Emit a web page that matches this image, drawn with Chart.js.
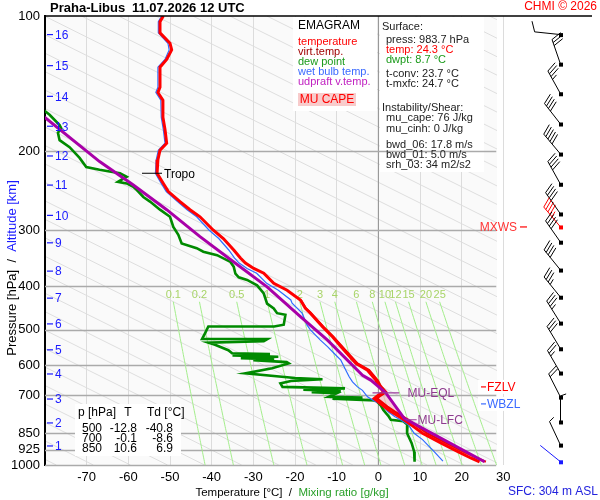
<!DOCTYPE html>
<html>
<head>
<meta charset="utf-8">
<script src="https://cdn.jsdelivr.net/npm/chart.js@4.4.1/dist/chart.umd.min.js"></script>
<style>
  html, body { margin: 0; padding: 0; background: #fff; }
  canvas { display: block; }
</style>
</head>
<body>
<canvas id="emagram" width="600" height="500"></canvas>
<script>
// values: pressure in hPa, temperatures in deg C
const tempP = [100, 103, 109, 115, 119, 125, 130, 144, 148, 154, 168, 179, 192, 199, 209, 224, 236, 246, 259, 270,
  280, 300, 313, 332, 346, 355, 365, 374, 394, 408, 429, 448, 459, 492, 518, 555, 594, 615, 647, 667,
  688, 700, 711, 741, 760, 793, 813, 850, 894, 934, 966, 983.7];
const tempT = [-51.6, -52.4, -52.4, -50.0, -49.6, -50.8, -52.4, -52.4, -52.9, -51.7, -51.7, -51.2, -50.8, -52.4, -52.9, -53.1, -51.6, -50.4, -47.6, -45.2,
  -42.8, -39.6, -37.2, -34.7, -33.1, -31.9, -29.9, -27.5, -25.1, -21.9, -18.7, -17.5, -16.3, -13.4, -11.0, -8.2, -5.4, -2.6, -0.6, 0.1,
  1.3, -0.1, -1.0, 1.4, 3.0, 6.2, 7.8, 10.6, 15.1, 19.1, 22.3, 24.3];

const virtP = [429, 448, 459, 492, 518, 555, 594, 615, 647, 667, 688, 700, 711, 741, 760, 793, 813, 850, 894, 934, 966, 983.7];
const virtT = [-18.6, -17.4, -16.2, -13.2, -10.8, -7.9, -5.0, -2.2, -0.2, 0.6, 1.9, 0.6, -0.3, 2.2, 3.9, 7.1, 8.8, 11.7, 16.4, 20.5, 23.8, 25.8];

const wetP = [100, 103, 109, 115, 119, 125, 130, 144, 148, 154, 168, 179, 192, 199, 209, 224, 236, 246, 259, 270,
  280, 300, 313, 332, 346, 355, 365, 374, 394, 408, 429, 436, 459, 488, 500, 527, 545, 563, 584, 615,
  636, 653, 670, 682, 705, 717, 735, 760, 781, 793, 813, 850, 878, 934, 980];
const wetT = [-52.0, -52.8, -52.8, -50.5, -50.2, -51.2, -52.9, -52.9, -53.4, -52.2, -52.1, -51.6, -51.2, -52.8, -53.3, -53.5, -52.1, -50.9, -48.2, -45.9,
  -43.6, -40.6, -38.3, -35.9, -34.5, -33.4, -31.5, -29.2, -26.8, -24.0, -21.0, -20.7, -18.3, -17.1, -16.3, -13.9, -12.2, -10.7, -9.0, -7.8,
  -7.0, -6.2, -5.0, -3.8, -2.6, -1.3, 0.9, 2.3, 4.0, 5.3, 7.2, 8.6, 10.6, 13.4, 15.5];

const dewP = [160, 166, 175, 178, 182, 189, 196, 207, 217, 220, 222, 224, 228, 234, 236, 240, 244, 253, 259, 270,
  280, 295, 307, 321, 329, 335, 341, 353, 362, 375, 382, 387, 398, 415, 437, 448, 459, 463, 487, 491.5,
  491.5, 509, 524, 524, 530, 534, 540, 555, 564, 566, 570, 574, 578, 581, 584, 590, 594, 609, 625, 640,
  644, 650, 658, 670, 675, 680, 684, 688, 692, 705, 708, 712, 716, 718, 735, 754, 780, 793, 799, 813,
  850, 894, 934, 983.7];
const dewT = [-81, -78.9, -76.5, -76.1, -76.9, -76.5, -74.1, -71.7, -70.1, -66.9, -64.5, -62.0, -60.4, -62.5, -60.4, -58.8, -58.0, -56.4, -54.8, -52.4,
  -50.0, -49.2, -48.0, -47.2, -43.6, -42.0, -38.7, -35.5, -34.7, -34.3, -33.5, -31.5, -29.1, -27.5, -26.7, -25.1, -24.3, -22.3, -22.7, -25.0,
  -40.8, -41.6, -42.3, -26.6, -27.5, -40.8, -39.2, -36.0, -35.1, -26.0, -35.0, -24.0, -33.0, -25.0, -30.0, -22.0, -21.5, -25.5, -31.9, -20.0,
  -13.4, -21.0, -23.5, -23.0, -8.0, -18.0, -9.0, -16.0, -10.0, -11.9, -3.8, -11.0, -3.8, -0.6, 0.5, 1.2, 2.5, 3.0, 6.0, 7.0,
  6.9, 8.0, 8.6, 8.7];

const parcelP = [983.7, 787, 691, 647, 631, 527, 467, 401, 353, 310, 270, 238, 211, 168];
const parcelT = [25.5, 6.2, 1.8, -1.8, -3.8, -12.2, -18.7, -26.7, -34.7, -42.8, -50.8, -58.8, -66.9, -80.1];

// MU CAPE area between parcel and virtual temperature
const capeP = [787, 691, 700, 711, 741, 760, 787];
const capeT = [6.2, 1.8, 0.6, -0.3, 2.2, 3.9, 6.2];

const windP = [110, 128, 149, 174, 203, 237, 276, 295, 319, 368, 423, 483, 551, 624, 706, 802, 903, 983.7];
const windDir = [276, 341, 331, 322, 320, 331, 325, 320, 325, 321, 321, 328, 329, 330, 333, 360, 335, 309];
const windSpd = [10, 30, 35, 40, 50, 40, 40, 45, 40, 40, 35, 35, 30, 25, 20, 5, 5, 2];

const altKm = [16, 15, 14, 13, 12, 11, 10, 9, 8, 7, 6, 5, 4, 3, 2, 1];
const altP = [110, 129, 151, 176, 205, 238, 278, 320, 370, 425, 485, 554, 627, 713, 806, 907];

const mixRatio = [0.1, 0.2, 0.5, 1, 2, 3, 4, 6, 8, 10, 12, 15, 20, 25];
const tempTicks = [-70, -60, -50, -40, -30, -20, -10, 0, 10, 20, 30];
const pressTicks = [100, 200, 300, 400, 500, 600, 700, 850, 925, 1000];

const tableP = ['500', '700', '850'];
const tableT = ['-12.8', '-0.1', '10.6'];
const tableTd = ['-40.8', '-8.6', '6.9'];

const tropoP = 224, fzlvP = 670, wbzlP = 731, mxwsP = 295, eqlP = 691, lfcP = 793, sfcP = 983.7;

const FONT = '"Liberation Sans", Arial, sans-serif';

function pts(ps, ts) { return ps.map((p, i) => ({ x: ts[i], y: p })); }

function dewFromMix(w, p) {
  const e = w * p / (622 + w);
  const l = Math.log(e / 6.112);
  return 243.5 * l / (17.67 - l);
}

function txt(ctx, s, x, y, color, size, align, bold) {
  ctx.font = (bold ? 'bold ' : '') + size + 'px ' + FONT;
  ctx.fillStyle = color;
  ctx.textAlign = align || 'left';
  ctx.textBaseline = 'middle';
  ctx.fillText(s, x, y);
}

function drawBarb(ctx, bx, by, dir, spd, color) {
  const r = dir * Math.PI / 180;
  const ux = Math.sin(r), uy = -Math.cos(r);
  const px = -uy, py = ux;
  const tx = bx + ux * 26, ty = by + uy * 26;
  ctx.strokeStyle = color;
  ctx.fillStyle = color;
  ctx.lineWidth = 1;
  ctx.beginPath();
  ctx.moveTo(bx, by);
  ctx.lineTo(tx, ty);
  const full = Math.floor(spd / 10), half = spd % 10 >= 5 ? 1 : 0;
  let d = 0;
  for (let i = 0; i < full + half; i++) {
    const len = i < full ? 11 : 6;
    const sx = tx - ux * d, sy = ty - uy * d;
    ctx.moveTo(sx, sy);
    ctx.lineTo(sx + (px * 0.94 + ux * 0.34) * len, sy + (py * 0.94 + uy * 0.34) * len);
    d += 3.2;
  }
  ctx.stroke();
  ctx.fillRect(bx - 1.5, by - 1.5, 4, 4);
}

const deco = {
  id: 'deco',
  beforeDraw(chart) {
    const { ctx, chartArea: a, scales: { x, y } } = chart;
    const xr = x.getPixelForValue(28.5);
    ctx.save();
    ctx.fillStyle = '#fff';
    ctx.fillRect(0, 0, chart.width, chart.height);
    ctx.fillStyle = '#fafafa';
    ctx.fillRect(a.left, a.top, xr - a.left, a.bottom - a.top);
    // slanted background lines
    ctx.beginPath();
    ctx.rect(a.left, a.top, xr - a.left, a.bottom - a.top);
    ctx.clip();
    ctx.strokeStyle = '#dedede';
    ctx.lineWidth = 1;
    for (let k = 0; k < 40; k++) {
      const t0 = -77.3 + 8.9 * k;
      ctx.beginPath();
      ctx.moveTo(x.getPixelForValue(t0 + 94 * Math.log(0.1)), y.getPixelForValue(100));
      ctx.lineTo(x.getPixelForValue(t0), y.getPixelForValue(1000));
      ctx.stroke();
    }
    ctx.restore();
  },
  beforeDatasetsDraw(chart) {
    const { ctx, chartArea: a, scales: { x, y } } = chart;
    ctx.save();
    // legend and info panels
    ctx.fillStyle = '#fff';
    ctx.fillRect(293, a.top + 1, 84, 94);
    ctx.fillRect(380, a.top + 1, 104, 155);
    // zero isotherm
    ctx.strokeStyle = '#999';
    ctx.lineWidth = 1;
    ctx.beginPath();
    ctx.moveTo(x.getPixelForValue(0), a.top);
    ctx.lineTo(x.getPixelForValue(0), a.bottom);
    ctx.stroke();
    // isobars
    ctx.strokeStyle = '#aaa';
    ctx.lineWidth = 1.3;
    pressTicks.forEach(p => {
      if (p === 100) return;
      const yy = Math.round(y.getPixelForValue(p)) + 0.5;
      ctx.beginPath();
      ctx.moveTo(a.left, yy);
      ctx.lineTo(x.getPixelForValue(28.3), yy);
      ctx.stroke();
    });
    // mixing ratio lines
    ctx.strokeStyle = '#a4ee8c';
    ctx.lineWidth = 1;
    mixRatio.forEach(w => {
      ctx.beginPath();
      for (let p = 433; p <= 1000; p += 9) {
        const xx = x.getPixelForValue(dewFromMix(w, p)), yy = y.getPixelForValue(p);
        if (p === 433) ctx.moveTo(xx, yy); else ctx.lineTo(xx, yy);
      }
      ctx.lineTo(x.getPixelForValue(dewFromMix(w, 1000)), y.getPixelForValue(1000));
      ctx.stroke();
      txt(ctx, String(w), x.getPixelForValue(dewFromMix(w, 433)), y.getPixelForValue(418), '#a8d468', 11, 'center');
    });
    ctx.restore();
  },
  afterDatasetsDraw(chart) {
    const { ctx, scales: { x, y } } = chart;
    ctx.save();
    // EQL / LFC markers
    ctx.strokeStyle = '#9a3a9a';
    ctx.lineWidth = 1.2;
    ctx.beginPath();
    ctx.moveTo(x.getPixelForValue(-1.4), y.getPixelForValue(eqlP));
    ctx.lineTo(x.getPixelForValue(5), y.getPixelForValue(eqlP));
    ctx.moveTo(x.getPixelForValue(6.5), y.getPixelForValue(lfcP));
    ctx.lineTo(x.getPixelForValue(9.2), y.getPixelForValue(lfcP));
    ctx.stroke();
    txt(ctx, 'MU-EQL', x.getPixelForValue(7), y.getPixelForValue(eqlP) + 1, '#8e3a8e', 12);
    txt(ctx, 'MU-LFC', x.getPixelForValue(9.4), y.getPixelForValue(lfcP) + 1, '#8e3a8e', 12);
    // tropopause
    const ty = y.getPixelForValue(tropoP);
    ctx.strokeStyle = '#000';
    ctx.lineWidth = 1;
    ctx.beginPath();
    ctx.moveTo(142, ty);
    ctx.lineTo(162, ty);
    ctx.stroke();
    txt(ctx, 'Tropo', 164, ty + 1, '#000', 12);
    // table
    ctx.fillStyle = '#fff';
    ctx.fillRect(75, 404, 106, 52);
    txt(ctx, 'p [hPa]', 78, 413, '#000', 12);
    txt(ctx, 'T', 128, 413, '#000', 12, 'center');
    txt(ctx, 'Td [°C]', 147, 413, '#000', 12);
    tableP.forEach((p, i) => {
      const yy = 429 + i * 10;
      txt(ctx, p, 102, yy, '#000', 12, 'right');
      txt(ctx, tableT[i], 137, yy, '#000', 12, 'right');
      txt(ctx, tableTd[i], 173, yy, '#000', 12, 'right');
    });
    ctx.restore();
  },
  afterDraw(chart) {
    const { ctx, chartArea: a, scales: { y } } = chart;
    ctx.save();
    // top frame line
    ctx.strokeStyle = '#000';
    ctx.lineWidth = 1.5;
    ctx.beginPath();
    ctx.moveTo(a.left, a.top);
    ctx.lineTo(592, a.top);
    ctx.stroke();
    txt(ctx, 'Praha-Libus', 50, 8, '#000', 13, 'left', true);
    txt(ctx, '11.07.2026 12 UTC', 132, 8, '#000', 13, 'left', true);
    txt(ctx, 'CHMI © 2026', 597, 7, '#f00', 12, 'right');

    // legend
    txt(ctx, 'EMAGRAM', 298, 26, '#000', 12);
    txt(ctx, 'temperature', 298, 42, '#f00', 11);
    txt(ctx, 'virt.temp.', 298, 52, '#a00000', 11);
    txt(ctx, 'dew point', 298, 62, '#1a9a1a', 11);
    txt(ctx, 'wet bulb temp.', 298, 72, '#3a6aff', 11);
    txt(ctx, 'udpraft v.temp.', 298, 82, '#c020c0', 11);
    ctx.fillStyle = '#f8cccc';
    ctx.fillRect(298, 93, 58, 13);
    txt(ctx, 'MU CAPE', 327, 100, '#f00', 12, 'center');

    // surface / instability info
    txt(ctx, 'Surface:', 382, 27, '#222', 11);
    txt(ctx, 'press: 983.7 hPa', 386, 40, '#222', 11);
    txt(ctx, 'temp: 24.3 °C', 386, 50, '#f00', 11);
    txt(ctx, 'dwpt: 8.7 °C', 386, 60, '#1a9a1a', 11);
    txt(ctx, 't-conv: 23.7 °C', 386, 74, '#222', 11);
    txt(ctx, 't-mxfc: 24.7 °C', 386, 84, '#222', 11);
    txt(ctx, 'Instability/Shear:', 382, 108, '#222', 11);
    txt(ctx, 'mu_cape: 76 J/kg', 386, 118, '#222', 11);
    txt(ctx, 'mu_cinh: 0 J/kg', 386, 129, '#222', 11);
    txt(ctx, 'bwd_06: 17.8 m/s', 386, 145, '#222', 11);
    txt(ctx, 'bwd_01: 5.0 m/s', 386, 155, '#222', 11);
    txt(ctx, 'srh_03: 34 m2/s2', 386, 165, '#222', 11);

    // altitude marks
    ctx.strokeStyle = '#1a1aff';
    ctx.lineWidth = 1.2;
    altKm.forEach((km, i) => {
      const yy = y.getPixelForValue(altP[i]);
      ctx.beginPath();
      ctx.moveTo(47, yy);
      ctx.lineTo(53, yy);
      ctx.stroke();
      txt(ctx, String(km), 55, yy + 1, '#1a1aff', 12);
    });

    // level labels on the right
    const fy = y.getPixelForValue(fzlvP), wy = y.getPixelForValue(wbzlP), my = y.getPixelForValue(mxwsP);
    ctx.fillStyle = '#fff';
    ctx.fillRect(478, fy - 7, 44, 14);
    ctx.fillRect(478, wy - 7, 44, 14);
    ctx.lineWidth = 1.2;
    ctx.strokeStyle = '#f00';
    ctx.beginPath(); ctx.moveTo(481, fy); ctx.lineTo(486, fy); ctx.stroke();
    txt(ctx, 'FZLV', 487, fy + 1, '#f00', 12);
    ctx.strokeStyle = '#3a6aff';
    ctx.beginPath(); ctx.moveTo(481, wy); ctx.lineTo(486, wy); ctx.stroke();
    txt(ctx, 'WBZL', 487, wy + 1, '#3a6aff', 12);
    txt(ctx, 'MXWS', 517, my + 1, '#f33', 12, 'right');
    ctx.strokeStyle = '#f00';
    ctx.beginPath(); ctx.moveTo(520, my); ctx.lineTo(527, my); ctx.stroke();

    // wind barbs
    windP.forEach((p, i) => {
      const color = p === mxwsP ? '#f00' : (p === sfcP ? '#1a1aff' : '#000');
      drawBarb(ctx, 560.5, y.getPixelForValue(p), windDir[i], windSpd[i], color);
    });

    // axis titles
    ctx.save();
    ctx.translate(12, 268);
    ctx.rotate(-Math.PI / 2);
    ctx.font = '13px ' + FONT;
    const s1 = 'Pressure [hPa]  /  ', s2 = 'Altitude [km]';
    const w1 = ctx.measureText(s1).width, w2 = ctx.measureText(s2).width;
    txt(ctx, s1, -(w1 + w2) / 2, 0, '#000', 13);
    txt(ctx, s2, -(w1 + w2) / 2 + w1, 0, '#1a1aff', 13);
    ctx.restore();
    ctx.font = '11.5px ' + FONT;
    const t1 = 'Temperature [°C]  /  ', t2 = 'Mixing ratio [g/kg]';
    const v1 = ctx.measureText(t1).width, v2 = ctx.measureText(t2).width;
    const tx0 = 292 - (v1 + v2) / 2;
    txt(ctx, t1, tx0, 493, '#000', 11.5);
    txt(ctx, t2, tx0 + v1, 493, '#2aa02a', 11.5);
    txt(ctx, 'SFC: 304 m ASL', 598, 492, '#2222dd', 12, 'right');
    ctx.restore();
  }
};

const line = (data, color, width, order) => ({
  data, showLine: true, borderColor: color, borderWidth: width, pointRadius: 0,
  fill: false, tension: 0, order
});

new Chart(document.getElementById('emagram'), {
  type: 'scatter',
  data: {
    datasets: [
      { data: pts(capeP, capeT), showLine: true, pointRadius: 0, borderWidth: 0,
        backgroundColor: 'rgba(245, 175, 190, 0.6)', fill: 'shape', order: 7 },
      line(pts(dewP, dewT), '#008a00', 2.6, 6),
      line(pts(wetP, wetT), '#2f6cff', 1.2, 5),
      line(pts(virtP, virtT), '#f00000', 2.2, 4),
      line(pts(tempP, tempT), '#ff0000', 3, 3),
      line(pts(parcelP, parcelT), '#a800a8', 3, 2)
    ]
  },
  options: {
    responsive: false,
    animation: false,
    events: [],
    layout: { padding: { top: 16, right: 55, left: 0, bottom: 0 } },
    plugins: { legend: { display: false }, tooltip: { enabled: false } },
    scales: {
      x: {
        type: 'linear', min: -80, max: 40,
        afterBuildTicks: s => { s.ticks = tempTicks.map(v => ({ value: v })); },
        afterFit: s => { s.height = 35; },
        grid: { color: c => (c.tick && c.tick.value === 0 ? '#999' : '#dcdcdc'), drawTicks: false, lineWidth: 1 },
        border: { display: false },
        ticks: { font: { size: 13, family: FONT }, color: '#000', padding: 5, autoSkip: false, maxRotation: 0,
          callback: v => String(v) }
      },
      y: {
        type: 'logarithmic', min: 100, max: 1000, reverse: true,
        afterBuildTicks: s => { s.ticks = pressTicks.map(v => ({ value: v })); },
        afterFit: s => { s.width = 45; },
        grid: { display: false, drawTicks: false },
        border: { display: true, color: '#000', width: 2 },
        ticks: { font: { size: 13, family: FONT }, color: '#000', padding: 5, autoSkip: false,
          callback: v => String(v) }
      }
    }
  },
  plugins: [deco]
});
</script>
</body>
</html>
